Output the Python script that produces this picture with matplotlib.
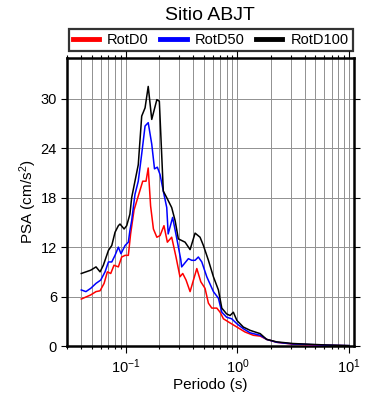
import matplotlib
matplotlib.use("Agg")
import matplotlib.pyplot as plt
from matplotlib.ticker import FixedLocator, NullFormatter, LogLocator
from matplotlib.lines import Line2D

plt.rcParams['font.family'] = ['Liberation Sans', 'DejaVu Sans']
plt.rcParams['mathtext.fontset'] = 'custom'
plt.rcParams['mathtext.rm'] = 'Liberation Sans'
plt.rcParams['mathtext.it'] = 'Liberation Sans:italic'

title = "Sitio ABJT"
series_names = ["RotD0", "RotD50", "RotD100"]
series_colors = ["#ff0000", "#0000ff", "#000000"]

# RotD0 (red)
t_rotd0 = [0.040, 0.0486, 0.0542, 0.0589, 0.064, 0.0685, 0.0734, 0.0785, 0.0859, 0.092,
           0.0987, 0.1055, 0.1106, 0.1187, 0.1295, 0.142, 0.152, 0.159, 0.167, 0.177,
           0.19, 0.203, 0.22, 0.236, 0.258, 0.282, 0.306, 0.324, 0.347, 0.377,
           0.433, 0.47, 0.513, 0.55, 0.59, 0.654, 0.70, 0.75, 0.86, 0.99,
           1.17, 1.39, 1.6, 1.83, 2.25, 3.15, 6.3, 10.0]
v_rotd0 = [5.7, 6.2, 6.6, 6.7, 7.6, 9.0, 8.8, 9.8, 9.6, 10.8,
           11.0, 11.0, 13.6, 16.5, 18.2, 20.0, 20.0, 21.6, 17.0, 14.2,
           13.2, 13.4, 14.6, 12.6, 13.2, 10.8, 8.4, 8.8, 8.0, 6.6,
           9.4, 7.8, 7.0, 5.2, 4.6, 4.6, 4.1, 3.3, 2.8, 2.3,
           1.7, 1.3, 1.2, 0.8, 0.45, 0.22, 0.08, 0.03]

# RotD50 (blue)
t_rotd50 = [0.040, 0.044, 0.0486, 0.0542, 0.0597, 0.0653, 0.070, 0.075, 0.0802, 0.0859,
            0.0907, 0.0987, 0.1055, 0.109, 0.113, 0.121, 0.1295, 0.139, 0.149, 0.159,
            0.171, 0.181, 0.192, 0.203, 0.217, 0.233, 0.24, 0.263, 0.287, 0.311,
            0.317, 0.364, 0.39, 0.418, 0.447, 0.48, 0.532, 0.61, 0.676, 0.725,
            0.80, 0.89, 0.99, 1.13, 1.3, 1.49, 1.6, 1.83, 2.25, 3.15, 6.3, 10.0]
v_rotd50 = [6.8, 6.6, 7.0, 7.6, 8.0, 9.0, 10.2, 10.2, 11.0, 12.0,
            11.2, 12.2, 12.6, 14.0, 15.2, 18.4, 20.0, 23.3, 26.7, 27.1,
            24.5, 21.5, 21.7, 20.8, 18.8, 16.8, 13.6, 15.6, 13.0, 10.5,
            9.6, 10.6, 10.4, 10.4, 10.8, 10.2, 8.4, 6.6, 5.8, 4.1,
            3.5, 3.3, 2.7, 2.1, 1.6, 1.4, 1.3, 0.8, 0.45, 0.25, 0.1, 0.04]

# RotD100 (black)
t_rotd100 = [0.040, 0.0486, 0.0542, 0.0589, 0.063, 0.070, 0.075, 0.0802, 0.0859, 0.0889,
             0.0967, 0.102, 0.109, 0.113, 0.1295, 0.139, 0.149, 0.159, 0.171, 0.19,
             0.2, 0.217, 0.233, 0.258, 0.277, 0.296, 0.34, 0.377, 0.418, 0.463,
             0.496, 0.55, 0.61, 0.676, 0.725, 0.80, 0.86, 0.92, 0.99, 1.13,
             1.3, 1.44, 1.6, 1.83, 2.25, 3.15, 6.3, 10.0]
v_rotd100 = [8.8, 9.2, 9.6, 9.0, 9.8, 11.6, 12.2, 13.8, 14.6, 14.8,
             14.2, 14.6, 16.0, 18.0, 22.0, 27.9, 28.9, 31.5, 27.5, 29.9,
             29.7, 18.8, 18.0, 16.8, 15.2, 13.0, 12.6, 11.7, 13.7, 13.2,
             12.2, 10.4, 8.4, 6.8, 4.6, 3.9, 3.7, 4.1, 3.1, 2.3,
             1.9, 1.7, 1.5, 0.8, 0.5, 0.3, 0.12, 0.05]

x_label = "Periodo (s)"
y_label = "PSA (cm/s$^2$)"
y_ticks = [0, 6, 12, 18, 24, 30]
x_major = [0.1, 1, 10]
x_major_labels = ["$\\mathregular{10^{-1}}$", "$\\mathregular{10^{0}}$", "$\\mathregular{10^{1}}$"]

fig = plt.figure(figsize=(3.9, 4.0), dpi=100)
ax = fig.add_axes([0.171, 0.135, 0.737, 0.721])

data = [(t_rotd0, v_rotd0), (t_rotd50, v_rotd50), (t_rotd100, v_rotd100)]
for (t, v), c in zip(data, series_colors):
    ax.plot(t, v, color=c, lw=1.1, zorder=3)

ax.set_xscale('log')
ax.set_xlim(0.0296, 11.1)
ax.set_ylim(0, 35)
ax.xaxis.set_major_locator(FixedLocator(x_major))
ax.set_xticklabels(x_major_labels)
ax.xaxis.set_minor_locator(LogLocator(base=10, subs=range(2, 10), numticks=20))
ax.xaxis.set_minor_formatter(NullFormatter())
ax.set_yticks(y_ticks)
ax.grid(True, which='both', axis='x', color='#909090', lw=0.7)
ax.grid(True, which='major', axis='y', color='#909090', lw=0.7)
ax.set_axisbelow(True)

for s in ax.spines.values():
    s.set_linewidth(1.8)
ax.tick_params(which='major', direction='out', length=5, width=0.8, top=True, right=True,
               labelsize=10.5, pad=3)
ax.tick_params(which='minor', direction='out', length=2.5, width=0.8, top=True, right=False)
ax.tick_params(axis='y', which='major', length=4)

ax.set_xlabel(x_label, fontsize=11, labelpad=2)
ax.set_ylabel(y_label, fontsize=11, labelpad=1)

fig.text(0.538, 0.962, title, fontsize=14, ha='center', va='center')

handles = [Line2D([], [], color=c, lw=3.5) for c in series_colors]
leg = fig.legend(handles, series_names, loc='center', bbox_to_anchor=(0.540, 0.900),
                 ncol=3, frameon=True, fancybox=False, edgecolor='black', fontsize=10.5,
                 handlelength=1.8, handletextpad=0.55, columnspacing=0.8,
                 borderpad=0.28, borderaxespad=0)
leg.get_frame().set_linewidth(1.6)

fig.savefig("out.png", dpi=100)
